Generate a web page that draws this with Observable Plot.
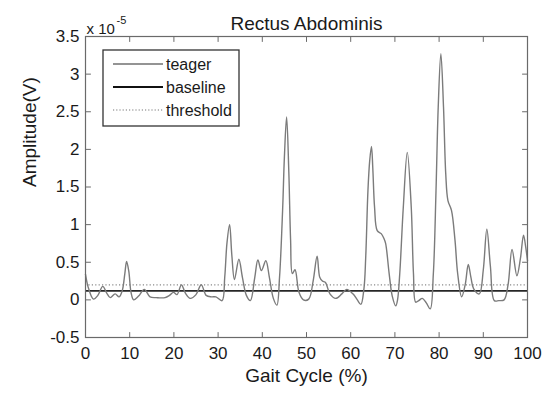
<!DOCTYPE html>
<html><head><meta charset="utf-8">
<script src="https://cdn.jsdelivr.net/npm/d3@7"></script>
<script src="https://cdn.jsdelivr.net/npm/@observablehq/plot@0.6"></script>
<style>body{margin:0;background:#fff}</style>
</head><body><div id="chart"></div>
<script>
// Gait cycle (%) and Teager amplitude (x 1e-5 V)
const gait = [0,0.7,1.8,2.8,3.9,4.8,5.6,6.7,7.6,8.3,8.9,9.3,9.8,10.3,10.9,12.0,13.3,14.6,16.0,18.0,19.0,19.9,20.7,21.7,22.6,23.7,25.0,26.2,27.3,28.5,29.5,30.9,31.5,32.0,32.6,33.1,33.7,34.7,35.5,36.4,37.3,38.3,39.0,39.8,40.8,41.6,42.5,43.3,43.9,44.6,45.0,45.5,46.0,46.4,46.8,47.4,48.3,49.3,50.5,51.5,52.4,53.0,53.6,54.3,55.3,56.6,58.0,59.1,60.5,61.5,62.3,63.0,63.4,63.9,64.3,64.7,65.0,65.4,66.0,66.9,67.5,67.9,68.7,69.4,70.2,70.6,71.1,71.9,72.8,73.7,74.2,74.7,75.4,76.2,77.1,78.0,78.7,79.3,79.8,80.4,81.0,81.5,82.0,82.8,83.6,84.2,85.1,85.9,86.6,87.2,87.8,89.1,90.0,90.8,91.6,92.5,93.5,94.7,95.6,96.5,97.6,98.4,99.1,99.6,100];
const teager = [0.34,0.15,0.01,0.06,0.18,0.09,0.03,0.08,0.04,0.12,0.35,0.51,0.38,0.10,0.0,0.05,0.14,0.04,0.03,0.03,0.06,0.10,0.07,0.20,0.09,0.02,0.07,0.20,0.06,0.04,0.04,-0.01,0.30,0.75,1.0,0.60,0.27,0.54,0.30,0.06,-0.01,0.30,0.53,0.39,0.52,0.30,0.02,-0.07,0.30,1.20,1.90,2.43,1.70,0.80,0.35,0.40,0.10,0.0,0.01,0.25,0.58,0.30,0.25,0.23,0.08,0.02,0.08,0.14,0.08,0.0,-0.06,0.15,0.57,1.45,1.85,2.04,1.75,1.23,0.92,0.88,0.82,0.75,0.35,0.05,-0.08,0.0,0.35,1.23,1.96,1.23,0.35,-0.03,-0.01,0.02,-0.04,-0.12,0.35,1.45,2.56,3.27,2.56,1.68,1.32,1.19,0.79,0.35,0.04,0.20,0.47,0.30,0.15,0.08,0.40,0.94,0.45,-0.01,-0.01,0.0,0.20,0.67,0.32,0.55,0.86,0.70,0.52];
const baselineLevel = [0.12];
const thresholdLevel = [0.2];
const xTicks = [0,10,20,30,40,50,60,70,80,90,100];
const yTicks = [-0.5,0,0.5,1,1.5,2,2.5,3,3.5];
const seriesNames = ["teager","baseline","threshold"];
const titleText = "Rectus Abdominis";
const xLabel = "Gait Cycle (%)";
const yLabel = "Amplitude(V)";
const exponentBase = "x 10";
const exponentPower = "-5";

const data = gait.map((g, i) => ({g, a: teager[i]}));
const axisColor = "#6a6a6a";
const fmt = d => String(d);
const tickShape = {draw(ctx, l) { ctx.moveTo(0, 0); ctx.lineTo(0, -l); }};
const tickOpts = {length: 5, anchor: "start", shape: tickShape, stroke: axisColor, strokeWidth: 1};

const plot = Plot.plot({
  width: 551, height: 398,
  marginLeft: 85, marginRight: 24, marginTop: 36, marginBottom: 61,
  style: {fontFamily: "'Liberation Sans', Arial, sans-serif", fontSize: "17px", color: "#1a1a1a", background: "#fff"},
  x: {domain: [0, 100]},
  y: {domain: [-0.5, 3.5]},
  marks: [
    Plot.ruleY(thresholdLevel, {stroke: "#8a8a8a", strokeWidth: 1.2, strokeDasharray: "1.2,2.2"}),
    Plot.ruleY(baselineLevel, {stroke: "#262626", strokeWidth: 1.6}),
    Plot.line(data, {x: "g", y: "a", curve: "catmull-rom", stroke: "#7b7b7b", strokeWidth: 1.4}),
    Plot.frame({stroke: axisColor, strokeWidth: 1.2}),
    Plot.axisX(xTicks, {tickSize: 0, tickPadding: 9, label: null, tickFormat: fmt}),
    Plot.axisY(yTicks, {tickSize: 0, tickPadding: 6, label: null, tickFormat: fmt}),
    Plot.vector(xTicks, {x: d => d, frameAnchor: "bottom", rotate: 0, ...tickOpts}),
    Plot.vector(xTicks, {x: d => d, frameAnchor: "top", rotate: 180, ...tickOpts}),
    Plot.vector(yTicks, {y: d => d, frameAnchor: "left", rotate: 90, ...tickOpts}),
    Plot.vector(yTicks, {y: d => d, frameAnchor: "right", rotate: -90, ...tickOpts}),
    Plot.text([titleText], {frameAnchor: "top", dy: -20, fontSize: 19}),
    Plot.text([xLabel], {frameAnchor: "bottom", dy: 44, fontSize: 19}),
    Plot.text([yLabel], {frameAnchor: "left", dx: -56, rotate: -90, fontSize: 19}),
    Plot.text([exponentBase], {frameAnchor: "top-left", textAnchor: "start", dx: 1, dy: -13, fontSize: 15}),
    Plot.text([exponentPower], {frameAnchor: "top-left", textAnchor: "start", dx: 31, dy: -20, fontSize: 11})
  ]
});

// legend box (styling overlay)
const svg = d3.select(plot);
const lg = svg.append("g").attr("transform", "translate(103,50)");
lg.append("rect").attr("width", 136).attr("height", 76).attr("fill", "#fff").attr("stroke", "#333").attr("stroke-width", 1.3);
const styles = [
  {stroke: "#2a2a2a", width: 1.1, dash: null},
  {stroke: "#111", width: 2.2, dash: null},
  {stroke: "#777", width: 1.1, dash: "1.2,2"}
];
seriesNames.forEach((name, i) => {
  const y = 14 + i * 23;
  const s = styles[i];
  const ln = lg.append("line").attr("x1", 10).attr("x2", 60).attr("y1", y).attr("y2", y)
    .attr("stroke", s.stroke).attr("stroke-width", s.width);
  if (s.dash) ln.attr("stroke-dasharray", s.dash);
  lg.append("text").attr("x", 63).attr("y", y).attr("dy", "0.35em")
    .attr("text-anchor", "start")
    .attr("font-size", 16).attr("fill", "#1a1a1a").text(name);
});

document.getElementById("chart").appendChild(plot);
</script>
</body></html>
